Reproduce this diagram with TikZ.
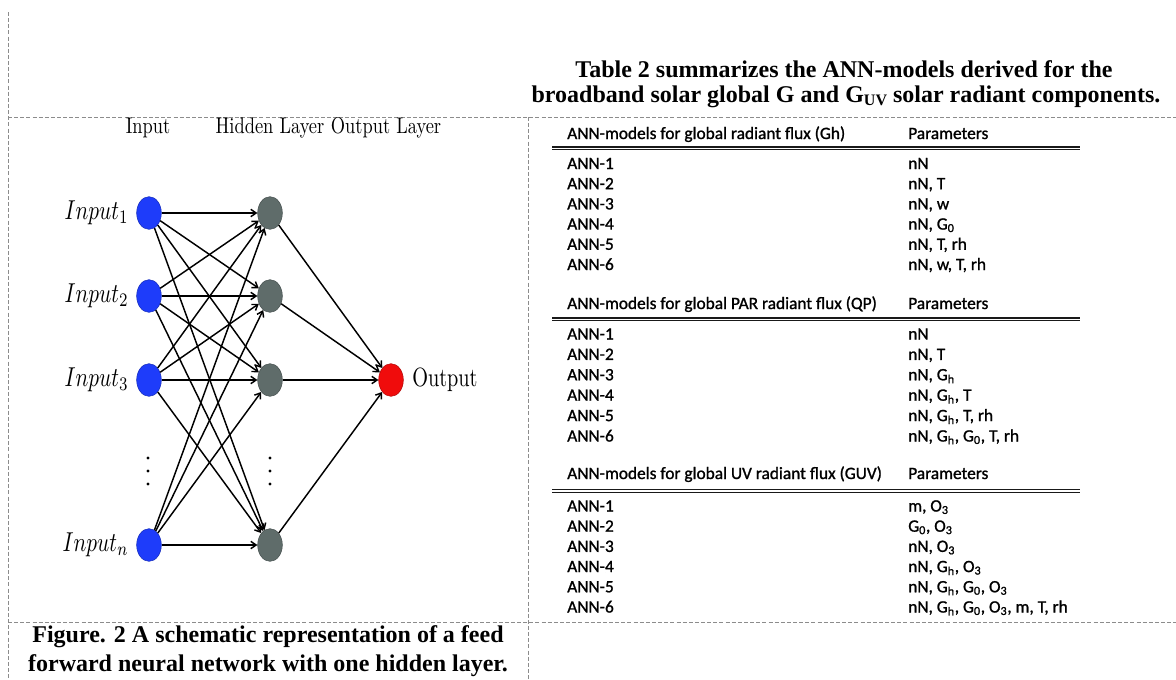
\documentclass[tikz,border=0pt]{standalone}
\usepackage{fontspec}
\usepackage{graphicx}
\usetikzlibrary{shapes.geometric,arrows.meta}
\newfontfamily\titlefont{Liberation Serif}
\newfontfamily\tabfont[FakeBold=1.2]{Carlito}
\definecolor{inblue}{RGB}{30,60,250}
\definecolor{hidgray}{RGB}{95,108,106}
\definecolor{outred}{RGB}{240,12,12}
\definecolor{framegray}{RGB}{140,140,140}
\begin{document}
\begin{tikzpicture}[x=0.75pt,y=-0.75pt,
  frame/.style={draw=framegray, line width=0.6pt, dash pattern=on 3pt off 1.6pt},
  neuron/.style={ellipse, minimum width=18.5pt, minimum height=24.5pt, inner sep=0pt, line width=0.4pt},
  innode/.style={neuron, fill=inblue, draw=inblue!75!black},
  hidnode/.style={neuron, fill=hidgray, draw=hidgray!75!black},
  outnode/.style={neuron, fill=outred, draw=outred!75!black},
  link/.style={-{Straight Barb[length=4pt,width=5.5pt]}, line width=1.1pt, black},
  colhead/.style={inner sep=0pt},
  titletext/.style={inner sep=0pt, font=\titlefont\bfseries\fontsize{18}{21}\selectfont},
  tabtext/.style={inner sep=0pt, anchor=base west, font=\tabfont\fontsize{13}{15}\selectfont},
  tabrule/.style={line width=1pt, black!90}
]
\useasboundingbox (0,0) rectangle (1176,679);

% cell borders
\draw[frame] (8,12) -- (8,679);
\draw[frame] (8,117) -- (1176,117);
\draw[frame] (528,117) -- (528,679);
\draw[frame] (8,622) -- (1176,622);

% ---------- network ----------
\node[colhead] (hin)  at (148,128) {\scalebox{1.38}[1.7]{Input}};
\node[colhead] (hhid) at (270,128) {\scalebox{1.38}[1.7]{Hidden Layer}};
\node[colhead] (hout) at (386,128) {\scalebox{1.38}[1.7]{Output Layer}};

\node[innode] (i1) at (149,213) {};
\node[innode] (i2) at (149,296) {};
\node[innode] (i3) at (149,380) {};
\node[innode] (i4) at (149,545) {};
\node[hidnode] (h1) at (270,213) {};
\node[hidnode] (h2) at (270,296) {};
\node[hidnode] (h3) at (270,380) {};
\node[hidnode] (h4) at (270,545) {};
\node[outnode] (o) at (391,380) {};

\node[anchor=east, inner sep=0pt] (l1) at (129,213) {\scalebox{1.6}[2.05]{$Input_1$}};
\node[anchor=east, inner sep=0pt] (l2) at (129,296) {\scalebox{1.6}[2.05]{$Input_2$}};
\node[anchor=east, inner sep=0pt] (l3) at (129,380) {\scalebox{1.6}[2.05]{$Input_3$}};
\node[anchor=east, inner sep=0pt] (l4) at (129,545) {\scalebox{1.6}[2.05]{$Input_n$}};
\node[anchor=west, inner sep=0pt] (lo) at (412,380) {\scalebox{1.52}[1.98]{Output}};

\foreach \y in {458,471,484} {
  \fill (148,\y) circle (1.2pt);
  \fill (270,\y) circle (1.2pt);
}

\foreach \a in {1,2,3,4}
  \foreach \b in {1,2,3,4}
    \draw[link] (i\a) -- (h\b);
\foreach \b in {1,2,3,4}
  \draw[link] (h\b) -- (o);

% ---------- caption ----------
\node[titletext] (cap1) at (268,637) {Figure. 2 A schematic representation of a feed};
\node[titletext] (cap2) at (268,666) {forward neural network with one hidden layer.};

% ---------- table title ----------
\node[titletext] (t1) at (844,69) {Table 2 summarizes the ANN-models derived for the};
\node[titletext] (t2) at (846,97) {broadband solar global G and G\raisebox{-0.25ex}{\fontsize{12}{12}\selectfont UV} solar radiant components.};

% ---------- table ----------
% block 1
\node[tabtext] (a0) at (567,139) {ANN-models for global radiant flux (Gh)};
\node[tabtext] (b0) at (908,139) {Parameters};
\draw[tabrule] (552,147) -- (1080,147);
\draw[tabrule] (552,149.8) -- (1080,149.8);
\foreach \k/\p in {0/{nN}, 1/{nN, T}, 2/{nN, w}, 3/{nN, G\textsubscript{0}}, 4/{nN, T, rh}, 5/{nN, w, T, rh}} {
  \node[tabtext] (a1\k) at (567,169+20.2*\k) {ANN-\the\numexpr\k+1\relax};
  \node[tabtext] (b1\k) at (908,169+20.2*\k) {\p};
}
% block 2
\node[tabtext] (c0) at (567,309) {ANN-models for global PAR radiant flux (QP)};
\node[tabtext] (d0) at (908,309) {Parameters};
\draw[tabrule] (552,318) -- (1080,318);
\draw[tabrule] (552,320.8) -- (1080,320.8);
\foreach \k/\p in {0/{nN}, 1/{nN, T}, 2/{nN, G\textsubscript{h}}, 3/{nN, G\textsubscript{h}, T}, 4/{nN, G\textsubscript{h}, T, rh}, 5/{nN, G\textsubscript{h}, G\textsubscript{0}, T, rh}} {
  \node[tabtext] (a2\k) at (567,339.5+20.4*\k) {ANN-\the\numexpr\k+1\relax};
  \node[tabtext] (b2\k) at (908,339.5+20.4*\k) {\p};
}
% block 3
\node[tabtext] (e0) at (567,479) {ANN-models for global UV radiant flux (GUV)};
\node[tabtext] (f0) at (908,479) {Parameters};
\draw[tabrule] (552,489.5) -- (1080,489.5);
\draw[tabrule] (552,492.3) -- (1080,492.3);
\foreach \k/\p in {0/{m, O\textsubscript{3}}, 1/{G\textsubscript{0}, O\textsubscript{3}}, 2/{nN, O\textsubscript{3}}, 3/{nN, G\textsubscript{h}, O\textsubscript{3}}, 4/{nN, G\textsubscript{h}, G\textsubscript{0}, O\textsubscript{3}}, 5/{nN, G\textsubscript{h}, G\textsubscript{0}, O\textsubscript{3}, m, T, rh}} {
  \node[tabtext] (a3\k) at (567,511.5+20.2*\k) {ANN-\the\numexpr\k+1\relax};
  \node[tabtext] (b3\k) at (908,511.5+20.2*\k) {\p};
}
\end{tikzpicture}
\end{document}
